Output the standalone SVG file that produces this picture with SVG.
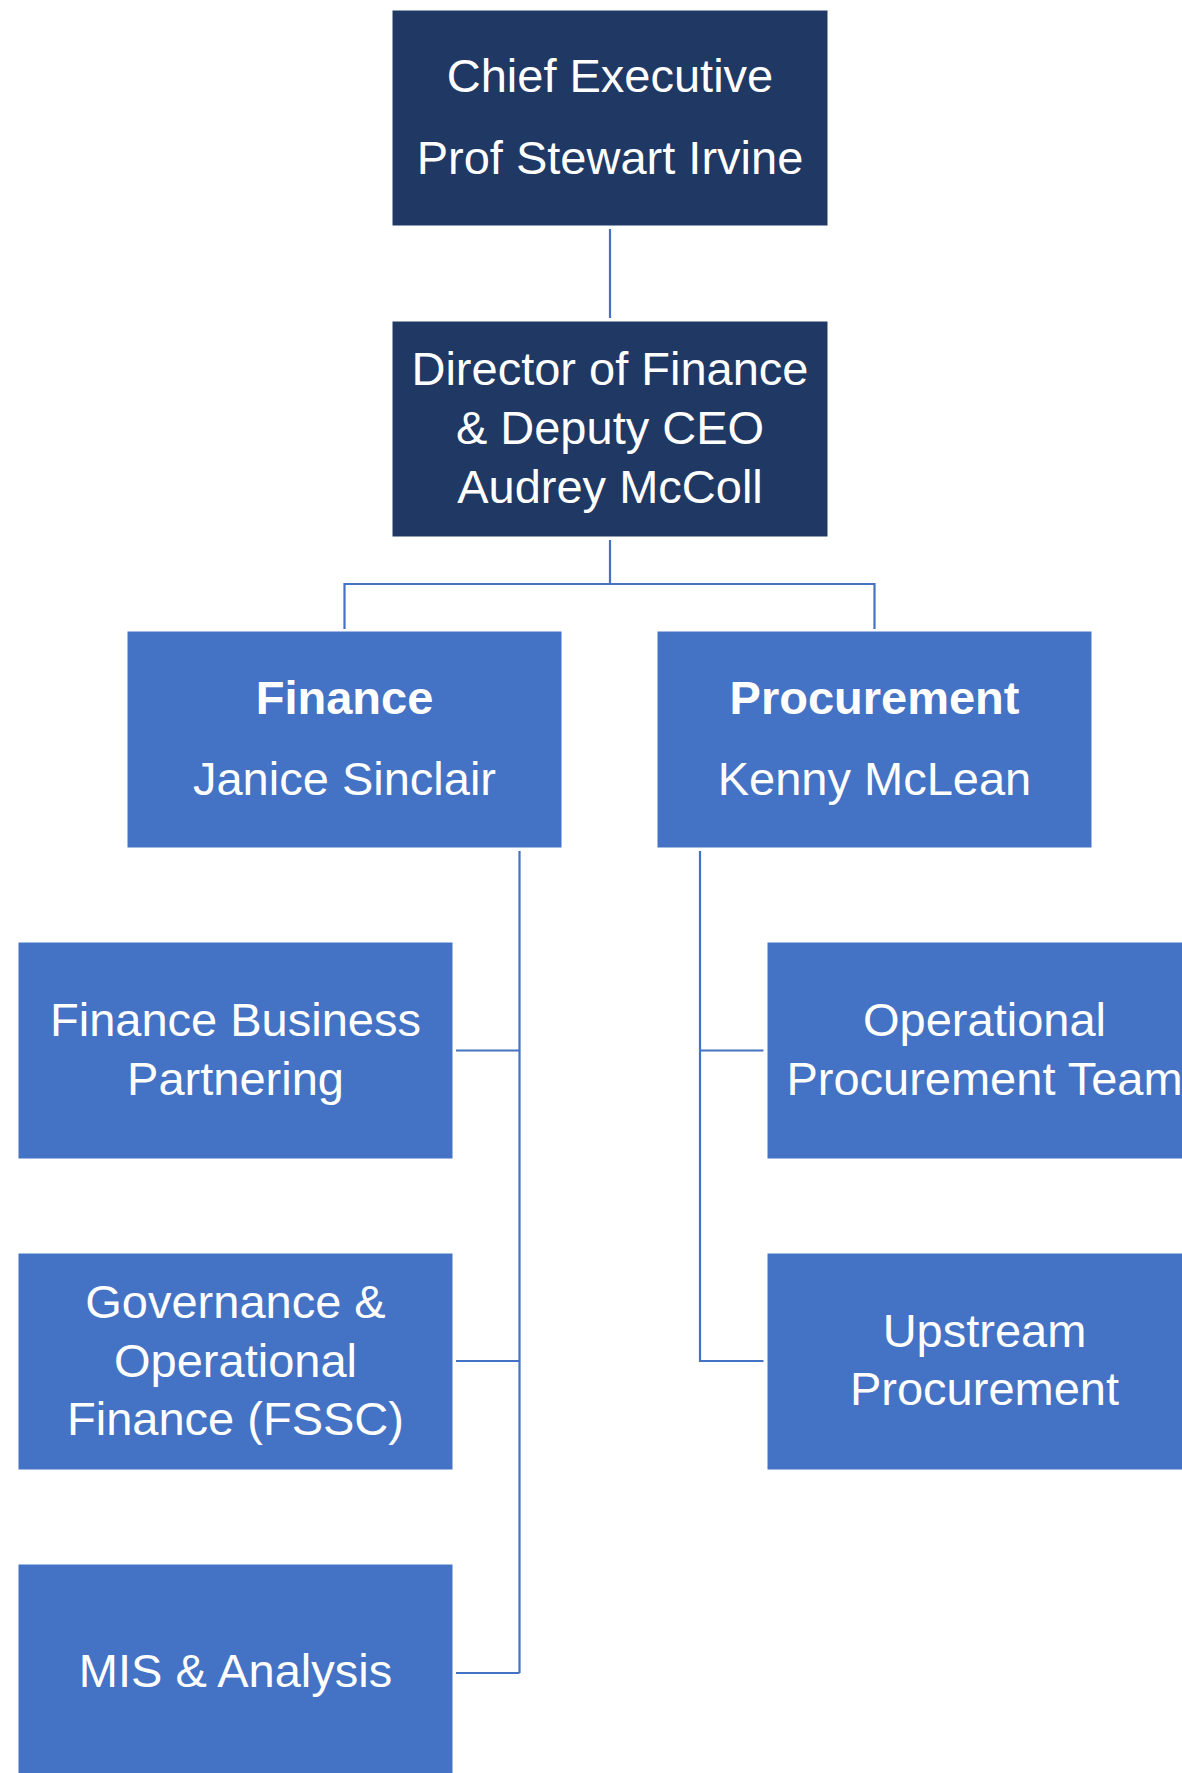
<svg xmlns="http://www.w3.org/2000/svg" width="1182" height="1773" viewBox="0 0 1182 1773">
<style>
.dark{fill:#203864;stroke:#ffffff;stroke-width:1}
.mid{fill:#4472C4;stroke:#ffffff;stroke-width:1}
.t{font-family:"Liberation Sans",Arial,sans-serif;font-size:47px;fill:#ffffff;text-anchor:middle}
.b{font-weight:bold}
.c{fill:none;stroke:#4472C4;stroke-width:2.2}
</style>
<rect x="0" y="0" width="1182" height="1773" fill="#ffffff"/>
<g id="connectors">
<path class="c" d="M610,229 V318"/>
<path class="c" d="M610,540 V584 M344.5,629 V584 H874.5 V629"/>
<path class="c" d="M519.5,851 V1673 M456,1050.5 H519.5 M456,1361 H519.5 M456,1673 H519.5"/>
<path class="c" d="M700,851 V1361 H763.5 M700,1050.5 H763.5"/>
</g>
<g id="ceo">
<rect class="dark" x="392" y="10" width="436" height="216"/>
<text class="t" x="610" y="92">Chief Executive</text>
<text class="t" x="610" y="174">Prof Stewart Irvine</text>
</g>
<g id="director">
<rect class="dark" x="392" y="321" width="436" height="216"/>
<text class="t" x="610" y="385">Director of Finance</text>
<text class="t" x="610" y="444">&amp; Deputy CEO</text>
<text class="t" x="610" y="503">Audrey McColl</text>
</g>
<g id="finance">
<rect class="mid" x="127" y="631" width="435" height="217"/>
<text class="t b" x="344.5" y="714">Finance</text>
<text class="t" x="344.5" y="795">Janice Sinclair</text>
</g>
<g id="procurement">
<rect class="mid" x="657" y="631" width="435" height="217"/>
<text class="t b" x="874.5" y="714">Procurement</text>
<text class="t" x="874.5" y="795">Kenny McLean</text>
</g>
<g id="fbp">
<rect class="mid" x="18" y="942" width="435" height="217"/>
<text class="t" x="235.5" y="1036">Finance Business</text>
<text class="t" x="235.5" y="1095">Partnering</text>
</g>
<g id="opproc">
<rect class="mid" x="767" y="942" width="435" height="217"/>
<text class="t" x="984.5" y="1036">Operational</text>
<text class="t" x="984.5" y="1095">Procurement Team</text>
</g>
<g id="governance">
<rect class="mid" x="18" y="1253" width="435" height="217"/>
<text class="t" x="235.5" y="1318">Governance &amp;</text>
<text class="t" x="235.5" y="1377">Operational</text>
<text class="t" x="235.5" y="1435">Finance (FSSC)</text>
</g>
<g id="upstream">
<rect class="mid" x="767" y="1253" width="435" height="217"/>
<text class="t" x="984.5" y="1347">Upstream</text>
<text class="t" x="984.5" y="1405">Procurement</text>
</g>
<g id="mis">
<rect class="mid" x="18" y="1564" width="435" height="217"/>
<text class="t" x="235.5" y="1687">MIS &amp; Analysis</text>
</g>
</svg>
